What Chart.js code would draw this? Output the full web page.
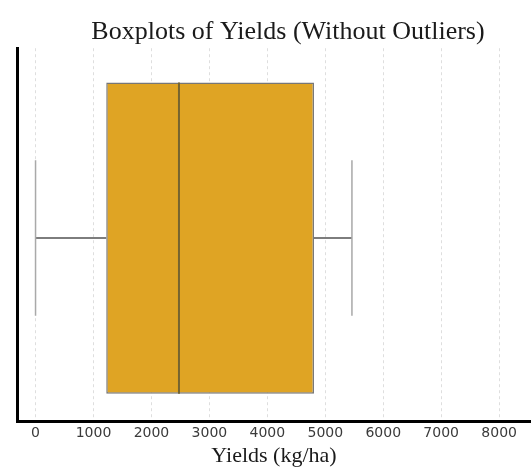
<!DOCTYPE html>
<html>
<head>
<meta charset="utf-8">
<script src="https://cdn.jsdelivr.net/npm/chart.js@4.4.1/dist/chart.umd.min.js"></script>
<style>
  html, body { margin: 0; padding: 0; background: #fff; }
</style>
</head>
<body>
<canvas id="yieldBoxChart" width="531" height="467"></canvas>
<script>
// box statistics (kg/ha)
const categories = ['Yields'];
const minValues = [0];
const q1Values = [1220];
const medianValues = [2475];
const q3Values = [4805];
const maxValues = [5460];
const xTickValues = [0, 1000, 2000, 3000, 4000, 5000, 6000, 7000, 8000];

// whiskers, caps and median line, placed with the chart's own x scale
const boxExtras = {
    id: 'boxExtras',
    afterLayout(chart) {
        // title sits a little right of centre in the reference
        chart.titleBlock.left += 14;
        chart.titleBlock.right += 14;
    },
    afterDatasetsDraw(chart) {
        const ctx = chart.ctx;
        const xs = chart.scales.x;
        const bars = chart.getDatasetMeta(0).data;
        bars.forEach(function (bar, i) {
            const yc = bar.y;
            const h = bar.height;
            const px = v => xs.getPixelForValue(v);
            ctx.save();
            // whiskers
            ctx.strokeStyle = '#7d7d7d';
            ctx.lineWidth = 2;
            ctx.beginPath();
            ctx.moveTo(px(minValues[i]), yc);
            ctx.lineTo(px(q1Values[i]), yc);
            ctx.moveTo(px(q3Values[i]), yc);
            ctx.lineTo(px(maxValues[i]), yc);
            ctx.stroke();
            // caps
            ctx.strokeStyle = '#a9a9a9';
            ctx.lineWidth = 1.5;
            ctx.beginPath();
            ctx.moveTo(px(minValues[i]), yc - h / 4);
            ctx.lineTo(px(minValues[i]), yc + h / 4);
            ctx.moveTo(px(maxValues[i]), yc - h / 4);
            ctx.lineTo(px(maxValues[i]), yc + h / 4);
            ctx.stroke();
            // median
            ctx.strokeStyle = '#756430';
            ctx.lineWidth = 2;
            ctx.beginPath();
            ctx.moveTo(px(medianValues[i]), yc - h / 2);
            ctx.lineTo(px(medianValues[i]), yc + h / 2);
            ctx.stroke();
            ctx.restore();
        });
    }
};

const ctx = document.getElementById('yieldBoxChart').getContext('2d');

new Chart(ctx, {
    type: 'bar',
    data: {
        datasets: [{
            label: categories[0],
            // box spans Q1..Q3, one box per category index
            data: categories.map((c, i) => ({ y: i, x: [q1Values[i], q3Values[i]] })),
            backgroundColor: '#dfa424',
            borderColor: '#777777',
            borderWidth: 1.5,
            borderSkipped: false,
            categoryPercentage: 1,
            barPercentage: 0.835
        }]
    },
    options: {
        indexAxis: 'y',
        responsive: false,
        animation: false,
        layout: {
            padding: { left: 17, right: 0, top: 0, bottom: 0 }
        },
        plugins: {
            legend: { display: false },
            tooltip: { enabled: false },
            title: {
                display: true,
                text: 'Boxplots of Yields (Without Outliers)',
                color: '#1a1a1a',
                font: { family: 'Liberation Serif', size: 26, weight: 'normal' },
                padding: { top: 17, bottom: 0 }
            }
        },
        scales: {
            x: {
                type: 'linear',
                min: -320,
                max: 8550,
                z: 1,
                afterBuildTicks: function (scale) {
                    scale.ticks = xTickValues.map(v => ({ value: v }));
                },
                ticks: {
                    color: '#3a3a3a',
                    font: { family: 'DejaVu Sans', size: 14, lineHeight: 1 },
                    padding: 5,
                    maxRotation: 0,
                    callback: v => String(v)
                },
                grid: {
                    color: 'rgba(0,0,0,0.13)',
                    lineWidth: 1,
                    drawTicks: false
                },
                border: {
                    display: true,
                    color: '#000000',
                    width: 3,
                    dash: [3, 3]
                },
                title: {
                    display: true,
                    text: 'Yields (kg/ha)',
                    color: '#1a1a1a',
                    font: { family: 'Liberation Serif', size: 22, weight: 'normal', lineHeight: 1 },
                    padding: { top: 0, bottom: 0 }
                }
            },
            y: {
                type: 'linear',
                min: -0.4816,
                max: 0.5184,
                afterBuildTicks: function (scale) {
                    scale.ticks = [{ value: 0 }];
                },
                ticks: { display: false },
                grid: { display: false, drawTicks: false },
                border: { display: true, color: '#000000', width: 3 }
            }
        }
    },
    plugins: [boxExtras]
});
</script>
</body>
</html>
